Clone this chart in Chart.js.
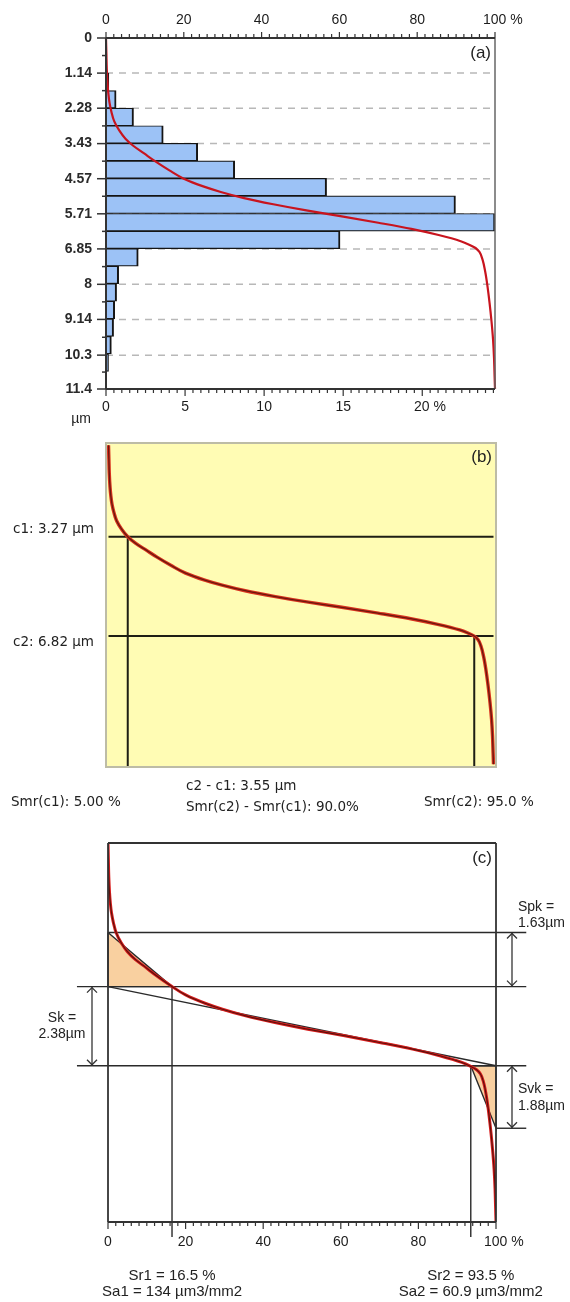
<!DOCTYPE html>
<html>
<head>
<meta charset="utf-8">
<script src="https://cdn.jsdelivr.net/npm/chart.js@4.4.1/dist/chart.umd.min.js"></script>
<style>
  html, body { margin: 0; padding: 0; background: #fff; }
  .panel { position: absolute; left: 0; width: 570px; }
</style>
</head>
<body>
<div class="panel" style="top:0;height:430px"><canvas id="chartA"></canvas></div>
<div class="panel" style="top:430px;height:400px"><canvas id="chartB"></canvas></div>
<div class="panel" style="top:830px;height:472px"><canvas id="chartC"></canvas></div>
<script>
// depth axis (µm) and material ratio axis (%)
const depthTicks = [0, 1.14, 2.28, 3.43, 4.57, 5.71, 6.85, 8, 9.14, 10.3, 11.4];
const ratioTicks = [0, 20, 40, 60, 80, 100];
const histTicks = [0, 5, 10, 15, 20];

// height distribution histogram (a)
const binCenters = [0.285, 0.855, 1.425, 1.995, 2.565, 3.135, 3.705, 4.275, 4.845, 5.415,
                    5.985, 6.555, 7.125, 7.695, 8.265, 8.835, 9.405, 9.975, 10.545, 11.115];
const binPercent = [0, 0, 0.18, 0.64, 1.74, 3.62, 5.8, 8.14, 13.95, 22.1,
                    24.6, 14.8, 2.04, 0.8, 0.67, 0.55, 0.48, 0.34, 0.16, 0];

// areal material ratio curve (same in a, b, c)
const curveDepth = [0, 0.5, 1.0, 1.5, 1.8, 2.1, 2.4, 2.7, 3.0, 3.27, 3.5, 3.75, 4.0, 4.3, 4.57, 4.82,
                    5.0, 5.2, 5.4, 5.6, 5.8, 6.0, 6.2, 6.4, 6.6, 6.72, 6.82, 6.95, 7.2, 7.6, 8.0, 8.6,
                    9.2, 9.8, 10.4, 11.0, 11.4];
const curveRatio = [0, 0.1, 0.2, 0.4, 0.6, 0.9, 1.4, 2.1, 3.4, 5.0, 7.0, 9.8, 12.6, 16.3, 20.0, 25.0,
                    29.5, 35.5, 43.0, 51.5, 61.0, 70.0, 78.5, 85.5, 91.2, 93.5, 95.0, 96.0, 96.8, 97.5, 98.0, 98.6,
                    99.1, 99.5, 99.75, 99.9, 100];

// (b) cut levels
const cLevels = [3.27, 6.82];
const smrValues = [5.0, 95.0];

// (c) Sk family: top of Spk, top of core, bottom of core, bottom of Svk (µm)
const skLevels = [2.69, 4.32, 6.70, 8.58];
const srValues = [16.5, 93.5];
const saValues = [134, 60.9];

Chart.defaults.font.family = '"Liberation Sans", Arial, sans-serif';
Chart.defaults.font.size = 14;
Chart.defaults.color = '#1c1c1c';

const AXIS = '#333';
const curvePts = curveDepth.map((d, i) => ({ x: curveRatio[i], y: d }));

function stroke(ctx, x1, y1, x2, y2, color, width) {
  ctx.save();
  ctx.strokeStyle = color;
  ctx.lineWidth = width;
  ctx.beginPath();
  ctx.moveTo(x1, y1);
  ctx.lineTo(x2, y2);
  ctx.stroke();
  ctx.restore();
}

function label(ctx, str, x, y, font, align) {
  ctx.save();
  ctx.font = font;
  ctx.fillStyle = '#222';
  ctx.textAlign = align || 'left';
  ctx.textBaseline = 'middle';
  ctx.fillText(str, x, y);
  ctx.restore();
}

function arrow(ctx, x, y1, y2) {
  stroke(ctx, x, y1, x, y2, AXIS, 1.3);
  ctx.save();
  ctx.strokeStyle = AXIS;
  ctx.lineWidth = 1.3;
  ctx.beginPath();
  ctx.moveTo(x - 5, y1 + 6); ctx.lineTo(x, y1 + 1); ctx.lineTo(x + 5, y1 + 6);
  ctx.moveTo(x - 5, y2 - 6); ctx.lineTo(x, y2 - 1); ctx.lineTo(x + 5, y2 - 6);
  ctx.stroke();
  ctx.restore();
}

// label with the % sign hanging to the right of the tick
const pctLabel = (v, last) => v === last ? '    ' + v + ' %' : String(v);
const fixTicks = list => scale => { scale.ticks = list.map(v => ({ value: v })); };

// ---------------- (a) histogram + curve ----------------
const frameA = {
  id: 'frameA',
  beforeDatasetsDraw(chart) {
    const { ctx, chartArea: a, scales: { y } } = chart;
    ctx.save();
    ctx.setLineDash([7, 6]);
    depthTicks.slice(1, -1).forEach(v => {
      const py = y.getPixelForValue(v);
      stroke(ctx, a.left, py, a.right, py, '#b8b8b8', 1.5);
    });
    ctx.restore();
  },
  afterDatasetsDraw(chart) {
    const { ctx, chartArea: a, scales: { y, xt, xb } } = chart;
    stroke(ctx, a.right, a.top, a.right, a.bottom, '#666', 1.5);
    stroke(ctx, a.left, a.top, a.right, a.top, AXIS, 2);
    stroke(ctx, a.left, a.bottom, a.right, a.bottom, AXIS, 2);
    stroke(ctx, a.left, a.top, a.left, a.bottom, AXIS, 2);
    depthTicks.forEach((v, i) => {
      const py = y.getPixelForValue(v);
      stroke(ctx, a.left - 9, py, a.left, py, AXIS, 1.5);
      if (i < depthTicks.length - 1) {
        const pm = y.getPixelForValue((v + depthTicks[i + 1]) / 2);
        stroke(ctx, a.left - 4, pm, a.left, pm, AXIS, 1.5);
      }
    });
    for (let k = 0; k <= 50; k++) {
      const px = xt.getPixelForValue(k * 2);
      stroke(ctx, px, a.top - (k % 10 === 0 ? 6 : 4), px, a.top, AXIS, 1.2);
    }
    for (let k = 0; k <= 49; k++) {
      const px = xb.getPixelForValue(k * 0.5);
      stroke(ctx, px, a.bottom, px, a.bottom + (k % 10 === 0 ? 7 : 4), AXIS, 1.2);
    }
    label(ctx, '(a)', a.right - 4, a.top + 15, '17px "Liberation Sans", Arial', 'right');
    label(ctx, 'µm', a.left - 25, a.bottom + 30, '14px "Liberation Sans", Arial', 'center');
  }
};

new Chart(document.getElementById('chartA'), {
  type: 'bar',
  data: {
    datasets: [
      {
        type: 'line', data: curvePts, xAxisID: 'xt', yAxisID: 'y',
        borderColor: '#c8141e', borderWidth: 2.2, pointRadius: 0,
        cubicInterpolationMode: 'monotone', clip: false
      },
      {
        type: 'bar', data: binCenters.map((d, i) => ({ x: binPercent[i], y: d })),
        xAxisID: 'xb', yAxisID: 'y',
        backgroundColor: '#9cc2f6', borderColor: '#151515',
        borderWidth: { top: 1.2, bottom: 1.2, left: 0, right: 2 }, borderSkipped: false,
        barPercentage: 1, categoryPercentage: 1
      }
    ]
  },
  options: {
    indexAxis: 'y',
    animation: false,
    responsive: true,
    maintainAspectRatio: false,
    events: [],
    layout: { padding: { left: 0, right: 75, top: 0, bottom: 0 } },
    plugins: { legend: { display: false }, tooltip: { enabled: false } },
    scales: {
      y: {
        type: 'linear', position: 'left', reverse: true, min: 0, max: 11.4, offset: false,
        grid: { display: false, drawTicks: false }, border: { display: false },
        afterBuildTicks: fixTicks(depthTicks),
        afterFit: s => { s.width = 106; },
        ticks: { padding: 14, autoSkip: false, font: { weight: 'bold' }, color: '#2a2a2a', callback: v => String(v) }
      },
      xt: {
        type: 'linear', position: 'top', min: 0, max: 100,
        grid: { display: false, drawTicks: false }, border: { display: false },
        afterBuildTicks: fixTicks(ratioTicks),
        afterFit: s => { s.height = 38; },
        ticks: { padding: 9, autoSkip: false, maxRotation: 0, callback: v => pctLabel(v, 100) }
      },
      xb: {
        type: 'linear', position: 'bottom', min: 0, max: 24.6,
        grid: { display: false, drawTicks: false }, border: { display: false },
        afterBuildTicks: fixTicks(histTicks),
        afterFit: s => { s.height = 41; },
        ticks: { padding: 10, autoSkip: false, maxRotation: 0, callback: v => pctLabel(v, 20) }
      }
    }
  },
  plugins: [frameA]
});

// ---------------- (b) cut levels c1 / c2 ----------------
const B_BOTTOM = 11.5;
const frameB = {
  id: 'frameB',
  beforeDraw(chart) {
    const { ctx, chartArea: a } = chart;
    ctx.save();
    ctx.fillStyle = '#fffcb4';
    ctx.fillRect(a.left, a.top, a.right - a.left, a.bottom - a.top);
    ctx.restore();
  },
  afterDraw(chart) {
    const { ctx, chartArea: a, scales: { y } } = chart;
    ctx.save();
    ctx.strokeStyle = '#bdbca6';
    ctx.lineWidth = 2;
    ctx.strokeRect(a.left, a.top, a.right - a.left, a.bottom - a.top);
    ctx.restore();
    const f = '13.5px "DejaVu Sans", Verdana, sans-serif';
    label(ctx, 'c1: ' + cLevels[0].toFixed(2) + ' µm', a.left - 12, y.getPixelForValue(cLevels[0]) - 7, f, 'right');
    label(ctx, 'c2: ' + cLevels[1].toFixed(2) + ' µm', a.left - 12, y.getPixelForValue(cLevels[1]) + 6, f, 'right');
    label(ctx, '(b)', a.right - 4, a.top + 14, '17px "Liberation Sans", Arial', 'right');
    label(ctx, 'c2 - c1: ' + (cLevels[1] - cLevels[0]).toFixed(2) + ' µm', 186, a.bottom + 19, f, 'left');
    label(ctx, 'Smr(c2) - Smr(c1): ' + (smrValues[1] - smrValues[0]).toFixed(1) + '%', 186, a.bottom + 40, f, 'left');
    label(ctx, 'Smr(c1): ' + smrValues[0].toFixed(2) + ' %', 11, a.bottom + 35, f, 'left');
    label(ctx, 'Smr(c2): ' + smrValues[1].toFixed(1) + ' %', 424, a.bottom + 35, f, 'left');
  }
};

const cutLine = { borderColor: '#1e1e14', borderWidth: 2, pointRadius: 0, clip: false };
new Chart(document.getElementById('chartB'), {
  type: 'line',
  data: {
    datasets: [
      { data: curvePts, borderColor: '#6a180e', borderWidth: 1.3, pointRadius: 0, cubicInterpolationMode: 'monotone' },
      { data: curvePts, borderColor: '#d8321e', borderWidth: 3.4, pointRadius: 0, cubicInterpolationMode: 'monotone' },
      ...cLevels.map(c => ({ ...cutLine, data: [{ x: 0, y: c }, { x: 100, y: c }] })),
      ...cLevels.map((c, i) => ({ ...cutLine, data: [{ x: smrValues[i], y: c }, { x: smrValues[i], y: B_BOTTOM }] }))
    ]
  },
  options: {
    indexAxis: 'y',
    animation: false,
    responsive: true,
    maintainAspectRatio: false,
    events: [],
    layout: { padding: { left: 106, right: 74, top: 13, bottom: 63 } },
    plugins: { legend: { display: false }, tooltip: { enabled: false } },
    scales: {
      x: { type: 'linear', display: false, min: -0.65, max: 100.65 },
      y: { type: 'linear', display: false, reverse: true, min: -0.08, max: B_BOTTOM }
    }
  },
  plugins: [frameB]
});

// ---------------- (c) Sk / Spk / Svk construction ----------------
const EXT_L = -8, EXT_R = 107.8, Y_EXT = 11.85;
const frameC = {
  id: 'frameC',
  afterDraw(chart) {
    const { ctx, chartArea: a, scales: { x, y } } = chart;
    stroke(ctx, a.left, a.top, a.right, a.top, AXIS, 1.8);
    stroke(ctx, a.right, a.top, a.right, a.bottom, AXIS, 1.8);
    stroke(ctx, a.left, a.top, a.left, a.bottom, AXIS, 1.8);
    stroke(ctx, a.left, a.bottom, a.right, a.bottom, AXIS, 1.8);
    for (let k = 0; k <= 50; k++) {
      const px = x.getPixelForValue(k * 2);
      stroke(ctx, px, a.bottom, px, a.bottom + (k % 10 === 0 ? 7 : 4), AXIS, 1.2);
    }
    const yp = skLevels.map(v => y.getPixelForValue(v));
    arrow(ctx, a.right + 16, yp[0], yp[1]);
    arrow(ctx, a.right + 16, yp[2], yp[3]);
    arrow(ctx, a.left - 16, yp[1], yp[2]);
    const f = '14px "Liberation Sans", Arial';
    label(ctx, 'Spk =', a.right + 22, yp[0] - 25, f, 'left');
    label(ctx, (skLevels[1] - skLevels[0]).toFixed(2) + 'µm', a.right + 22, yp[0] - 9, f, 'left');
    const midSk = (yp[1] + yp[2]) / 2;
    label(ctx, 'Sk =', a.left - 46, midSk - 8, f, 'center');
    label(ctx, (skLevels[2] - skLevels[1]).toFixed(2) + 'µm', a.left - 46, midSk + 8, f, 'center');
    const midSvk = (yp[2] + yp[3]) / 2;
    label(ctx, 'Svk =', a.right + 22, midSvk - 8, f, 'left');
    label(ctx, (skLevels[3] - skLevels[2]).toFixed(2) + 'µm', a.right + 22, midSvk + 9, f, 'left');
    label(ctx, '(c)', a.right - 4, a.top + 15, '17px "Liberation Sans", Arial', 'right');
    const fb = '15px "Liberation Sans", Arial';
    srValues.forEach((s, i) => {
      const px = x.getPixelForValue(s);
      label(ctx, 'Sr' + (i + 1) + ' = ' + s.toFixed(1) + ' %', px, a.bottom + 54, fb, 'center');
      label(ctx, 'Sa' + (i + 1) + ' = ' + saValues[i] + ' µm3/mm2', px, a.bottom + 70, fb, 'center');
    });
  }
};

const thin = { borderColor: '#2a2a2a', borderWidth: 1.4, pointRadius: 0, clip: false };
new Chart(document.getElementById('chartC'), {
  type: 'line',
  data: {
    datasets: [
      { data: curvePts, borderColor: '#5a120c', borderWidth: 1.1, pointRadius: 0, cubicInterpolationMode: 'monotone' },
      { data: curvePts, borderColor: '#d81c1c', borderWidth: 3, pointRadius: 0, cubicInterpolationMode: 'monotone' },
      { ...thin, data: [{ x: 0, y: skLevels[1] }, { x: 100, y: skLevels[2] }] },
      { ...thin, data: [{ x: 0, y: skLevels[0] }, { x: EXT_R, y: skLevels[0] }] },
      { ...thin, data: [{ x: EXT_L, y: skLevels[1] }, { x: EXT_R, y: skLevels[1] }] },
      { ...thin, data: [{ x: EXT_L, y: skLevels[2] }, { x: EXT_R, y: skLevels[2] }] },
      { ...thin, data: [{ x: 100, y: skLevels[3] }, { x: EXT_R, y: skLevels[3] }] },
      { ...thin, data: [{ x: srValues[0], y: skLevels[1] }, { x: srValues[0], y: Y_EXT }] },
      { ...thin, data: [{ x: srValues[1], y: skLevels[2] }, { x: srValues[1], y: Y_EXT }] },
      {
        ...thin, fill: 'shape', backgroundColor: '#f9d0a0',
        data: [{ x: 0, y: skLevels[0] }, { x: srValues[0], y: skLevels[1] }, { x: 0, y: skLevels[1] }, { x: 0, y: skLevels[0] }]
      },
      {
        ...thin, fill: 'shape', backgroundColor: '#f9d0a0',
        data: [{ x: srValues[1], y: skLevels[2] }, { x: 100, y: skLevels[2] }, { x: 100, y: skLevels[3] }, { x: srValues[1], y: skLevels[2] }]
      }
    ]
  },
  options: {
    indexAxis: 'y',
    animation: false,
    responsive: true,
    maintainAspectRatio: false,
    events: [],
    layout: { padding: { left: 108, right: 74, top: 13, bottom: 0 } },
    plugins: { legend: { display: false }, tooltip: { enabled: false } },
    scales: {
      x: {
        type: 'linear', position: 'bottom', min: 0, max: 100,
        grid: { display: false, drawTicks: false }, border: { display: false },
        afterBuildTicks: fixTicks(ratioTicks),
        afterFit: s => { s.height = 80; },
        ticks: { padding: 12, autoSkip: false, maxRotation: 0, callback: v => pctLabel(v, 100) }
      },
      y: { type: 'linear', display: false, reverse: true, min: 0, max: 11.4 }
    }
  },
  plugins: [frameC]
});
</script>
</body>
</html>
